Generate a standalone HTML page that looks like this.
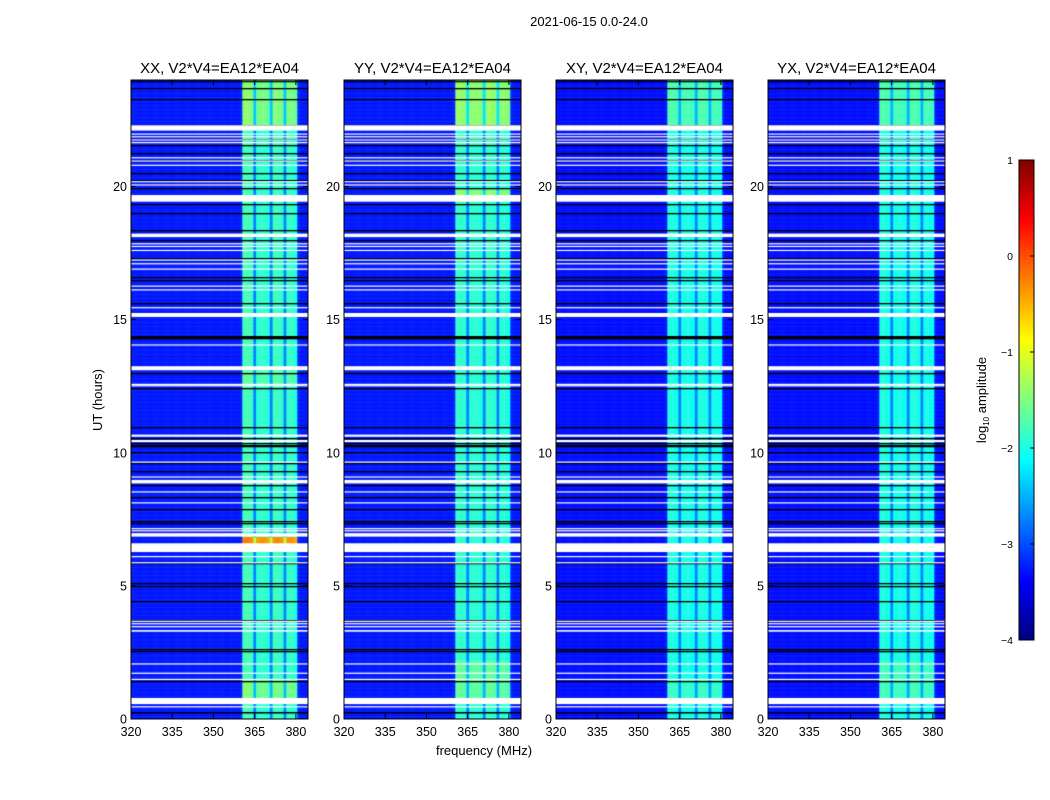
<!DOCTYPE html>
<html><head><meta charset="utf-8"><style>
body{margin:0;background:#fff;width:1050px;height:800px;overflow:hidden;font-family:"Liberation Sans",sans-serif}
#root{position:relative;width:1050px;height:800px}
canvas{position:absolute}
svg{position:absolute;left:0;top:0}
</style></head><body><div id="root">
<svg id="svg" width="1050" height="800"></svg>
</div>
<script>
// ---- data ----
const titles=["XX, V2*V4=EA12*EA04","YY, V2*V4=EA12*EA04","XY, V2*V4=EA12*EA04","YX, V2*V4=EA12*EA04"];
const freqStart=320, freqStep=1; // channel centre frequencies 320..384 MHz
const chanXX=[-3.25,-3.25,-3.25,-3.25,-3.25,-3.25,-3.25,-3.25,-3.25,-3.25,-3.25,-3.25,-3.25,-3.25,-3.25,-3.25,-3.25,-3.25,-3.25,-3.25,-3.25,-3.25,-3.25,-3.25,-3.25,-3.25,-3.25,-3.25,-3.25,-3.25,-3.25,-3.25,-3.25,-3.25,-3.25,-3.25,-3.25,-3.25,-3.25,-3.25,-3.2,-1.8,-1.75,-1.8,-1.85,-2.75,-1.95,-1.9,-1.85,-1.9,-2.0,-2.75,-1.85,-1.8,-1.85,-1.9,-2.75,-1.9,-1.85,-1.9,-2.0,-3.2,-3.25,-3.25,-3.25];
const chanYY=[-3.25,-3.25,-3.25,-3.25,-3.25,-3.25,-3.25,-3.25,-3.25,-3.25,-3.25,-3.25,-3.25,-3.25,-3.25,-3.25,-3.25,-3.25,-3.25,-3.25,-3.25,-3.25,-3.25,-3.25,-3.25,-3.25,-3.25,-3.25,-3.25,-3.25,-3.25,-3.25,-3.25,-3.25,-3.25,-3.25,-3.25,-3.25,-3.25,-3.25,-3.2,-1.9,-1.85,-1.9,-1.95,-2.75,-1.95,-1.9,-1.9,-1.95,-2.0,-2.75,-1.9,-1.85,-1.9,-1.95,-2.75,-1.95,-1.9,-1.95,-2.05,-3.2,-3.25,-3.25,-3.25];
const chanXY=[-3.3,-3.3,-3.3,-3.3,-3.3,-3.3,-3.3,-3.3,-3.3,-3.3,-3.3,-3.3,-3.3,-3.3,-3.3,-3.3,-3.3,-3.3,-3.3,-3.3,-3.3,-3.3,-3.3,-3.3,-3.3,-3.3,-3.3,-3.3,-3.3,-3.3,-3.3,-3.3,-3.3,-3.3,-3.3,-3.3,-3.3,-3.3,-3.3,-3.3,-3.25,-2.0,-1.95,-2.0,-2.05,-2.75,-2.05,-2.0,-2.0,-2.05,-2.1,-2.75,-2.0,-1.95,-2.0,-2.05,-2.75,-2.05,-2.0,-2.05,-2.1,-3.25,-3.3,-3.3,-3.3];
const chanYX=chanXY.slice();
const chans=[chanXX,chanYY,chanXY,chanYX];
// band brightening per time segment: [startHour,endHour,boost]
const boostXX=[[0.8,1.5,0.3],[22.3,24,0.35],[6.62,6.85,1.55],[12.5,13.1,0.15]];
const boostYY=[[0.8,2.2,0.25],[22.3,24,0.5],[19.43,19.9,0.45]];
const boostXY=[[0.8,1.5,0.15],[22.3,24,0.25]];
const boostYX=[[0.8,2.2,0.2],[22.3,24,0.25]];
const boosts=[boostXX,boostYY,boostXY,boostYX];
// flagged (white) time ranges, hours
const flagStart=[0.56,0.44,1.47,1.70,2.05,3.28,3.45,3.56,3.65,5.85,6.08,6.27,6.85,7.05,7.13,8.10,8.51,8.85,9.07,9.63,10.40,10.60,12.50,12.55,13.10,14.03,15.10,15.43,16.10,16.24,16.88,17.08,17.22,17.58,17.73,17.83,18.10,19.43,20.04,20.16,20.78,20.94,21.06,21.63,21.73,21.85,21.95,22.10];
const flagEnd  =[0.79,0.48,1.51,1.74,2.09,3.34,3.49,3.60,3.69,5.89,6.12,6.60,6.98,7.09,7.17,8.14,8.55,8.98,9.11,9.67,10.48,10.68,12.54,12.59,13.25,14.07,15.25,15.47,16.14,16.28,16.92,17.12,17.26,17.62,17.77,17.87,18.23,19.68,20.08,20.20,20.82,20.98,21.10,21.67,21.77,21.89,21.99,22.30];
// zero-amplitude (black) time rows, hours
const zeroRows=[0.25,0.28,1.42,2.55,2.64,3.70,4.45,5.00,5.10,5.85,7.38,7.45,7.90,8.35,8.80,9.30,9.62,10.02,10.25,10.30,10.35,10.55,10.95,12.45,12.60,13.00,14.30,14.35,14.40,15.20,15.62,16.48,16.60,17.30,18.00,18.35,19.00,19.35,19.95,20.25,20.50,21.00,21.25,21.55,21.80,22.32,23.30,23.70,23.96];
const xTicks=[320,335,350,365,380];
const yTicks=[0,5,10,15,20];
const cbTicks=[1,0,-1,-2,-3,-4];
// ---- layout ----
const panelX=[131,344,556,768], PW=177, PT=80, PB=719;
const fMin=320, fMax=384.4, tMin=0, tMax=24, vMin=-4, vMax=1;
const NS="http://www.w3.org/2000/svg";
const svg=document.getElementById('svg');
function sx(p,f){return panelX[p]+(f-fMin)/(fMax-fMin)*PW;}
function sy(t){return PB-(t-tMin)/(tMax-tMin)*(PB-PT);}
function jet(v){let x=(v-vMin)/(vMax-vMin);x=Math.max(0,Math.min(1,x));
 const c=t=>Math.max(0,Math.min(1,t));
 const r=c(Math.min(4*x-1.5,-4*x+4.5)),g=c(Math.min(4*x-0.5,-4*x+3.5)),b=c(Math.min(4*x+0.5,-4*x+2.5));
 return `rgb(${Math.round(r*255)},${Math.round(g*255)},${Math.round(b*255)})`;}
function el(tag,attrs,txt){const e=document.createElementNS(NS,tag);for(const k in attrs)e.setAttribute(k,attrs[k]);if(txt!=null)e.textContent=txt;svg.appendChild(e);return e;}
const root=document.getElementById('root');
for(let p=0;p<4;p++){
 const cv=document.createElement('canvas');
 cv.width=PW;cv.height=PB-PT;cv.style.left=panelX[p]+'px';cv.style.top=PT+'px';
 
 
 root.insertBefore(cv,svg);
 const ctx=cv.getContext('2d');
 const ch=chans[p], bs=boosts[p], dt=0.05;
 for(let t=0;t<24;t+=dt){
  let boost=0;bs.forEach(b=>{if(t+dt/2>=b[0]&&t+dt/2<b[1])boost+=b[2];});
  for(let i=0;i<ch.length;i++){
   const f=freqStart+i*freqStep;const inBand=ch[i]>-3;
   ctx.fillStyle=jet(ch[i]+(inBand?boost:0));
   const x0=sx(p,f-0.5)-panelX[p],x1=sx(p,f+0.5)-panelX[p];
   ctx.fillRect(x0,sy(t+dt)-PT,x1-x0+0.5,sy(t)-sy(t+dt)+0.5);
  }
 }
 ctx.fillStyle='#000';
 zeroRows.forEach(t=>ctx.fillRect(0,Math.round(sy(t)-PT),PW,1.3));
 ctx.fillStyle='#fff';
 for(let k=0;k<flagStart.length;k++){ctx.fillRect(0,sy(flagEnd[k])-PT,PW,Math.max(1.2,sy(flagStart[k])-sy(flagEnd[k])));}
 const fr=el('rect',{x:panelX[p],y:PT,width:PW,height:PB-PT,fill:'none',stroke:'#000','stroke-width':1});
 
 
 const tt=el('text',{x:panelX[p]+PW/2,y:73,'text-anchor':'middle','font-size':15},titles[p]);
 
 
 xTicks.forEach(v=>{const x=sx(p,v);
  el('line',{x1:x,x2:x,y1:PB,y2:PB-5,stroke:'#000'});el('line',{x1:x,x2:x,y1:PT,y2:PT+5,stroke:'#000'});
  const l=el('text',{x:x,y:736,'text-anchor':'middle','font-size':12.5},v);
  
  });
 yTicks.forEach(v=>{const y=sy(v);
  el('line',{x1:panelX[p],x2:panelX[p]+5,y1:y,y2:y,stroke:'#000'});el('line',{x1:panelX[p]+PW,x2:panelX[p]+PW-5,y1:y,y2:y,stroke:'#000'});
  const l=el('text',{x:panelX[p]-4,y:y+4.5,'text-anchor':'end','font-size':12.5},v);
  
  });
}
const st=el('text',{x:589,y:26,'text-anchor':'middle','font-size':13},'2021-06-15 0.0-24.0');


const yt=el('text',{x:102,y:400,'text-anchor':'middle','font-size':13,transform:'rotate(-90 102 400)'},'UT (hours)');


const xt=el('text',{x:484,y:755,'text-anchor':'middle','font-size':13},'frequency (MHz)');


// colorbar
const CBX=1019,CBW=15,CBT=160,CBB=640;
for(let i=0;i<CBB-CBT;i++){const v=vMax-(i+0.5)/(CBB-CBT)*(vMax-vMin);
 el('rect',{x:CBX,y:CBT+i,width:CBW,height:1.2,fill:jet(v)});}
const cbf=el('rect',{x:CBX,y:CBT,width:CBW,height:CBB-CBT,fill:'none',stroke:'#000'});


cbTicks.forEach(v=>{const y=CBB-(v-vMin)/(vMax-vMin)*(CBB-CBT);
 el('line',{x1:CBX+CBW-4,x2:CBX+CBW,y1:y,y2:y,stroke:'#000'});
 const l=el('text',{x:1013,y:y+4,'text-anchor':'end','font-size':10.5},v<0?'\u2212'+(-v):v);
 
 });
const cl=el('text',{x:986,y:400,'text-anchor':'middle','font-size':13,transform:'rotate(-90 986 400)'});


cl.innerHTML='log<tspan font-size="8" dy="3">10</tspan><tspan dy="-3"> amplitude</tspan>';
</script></body></html>
